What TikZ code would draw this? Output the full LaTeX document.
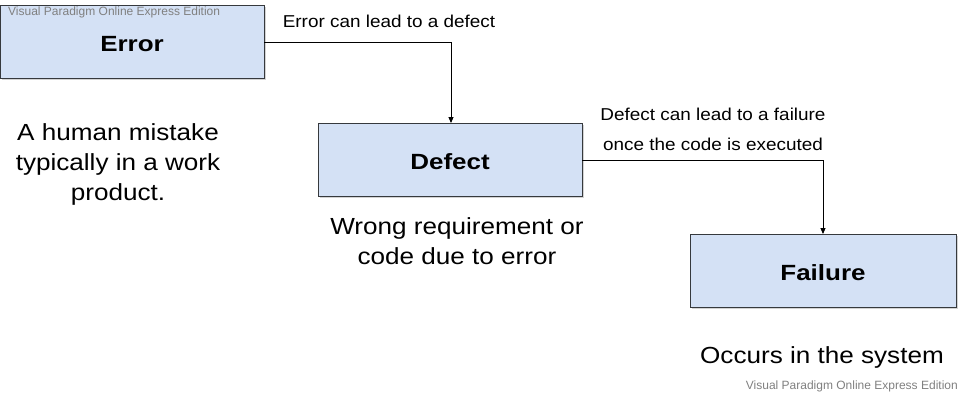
\documentclass[tikz,border=0pt]{standalone}
\usepackage{fontspec}
\usepackage{graphicx}
\setmainfont{Liberation Sans}
\usetikzlibrary{shadows,arrows.meta}
\definecolor{boxfill}{HTML}{D4E1F5}
\definecolor{boxline}{HTML}{36393D}
\definecolor{wm}{HTML}{808080}
\newcommand{\widetext}[2]{\scalebox{#1}[1]{\begin{tabular}{@{}c@{}}#2\end{tabular}}}
\newcommand{\boxtext}[1]{\scalebox{1.18}[1]{#1}}
\begin{document}
\begin{tikzpicture}[x=1pt,y=-1pt,
  box/.style={draw=boxline,fill=boxfill,line width=0.9pt,minimum width=#1,minimum height=73pt,inner sep=0pt,
    text height=18.8pt,text depth=0pt,
    font=\fontsize{22}{26}\selectfont\bfseries,drop shadow={shadow xshift=2pt,shadow yshift=-2pt,opacity=0.35}},
  conn/.style={draw=black,line width=0.9pt,-{Triangle[length=6pt,width=5pt]}},
  elabel/.style={font=\fontsize{17.2}{30}\selectfont,inner sep=0pt},
  note/.style={font=\fontsize{23.3}{30}\selectfont,inner sep=0pt},
  wmark/.style={font=\fontsize{12}{13}\selectfont,text=wm,inner sep=0pt}]
\useasboundingbox (0,0) rectangle (970,403);
\node[box=264pt] (error) at (132,42) {\boxtext{Error}};
\node[box=264pt] (defect) at (450,160) {\boxtext{Defect}};
\node[box=266pt] (failure) at (823,271) {\boxtext{Failure}};
\node[wmark,anchor=west] (wm1) at (8,12) {Visual Paradigm Online Express Edition};
\node[wmark,anchor=east] (wm2) at (958,386) {Visual Paradigm Online Express Edition};
\coordinate (c1) at (451,42);
\coordinate (c2) at (823,160);
\draw[conn] (error.east) -- (c1) -- (defect.north -| c1);
\draw[conn] (defect.east) -- (c2) -- (failure.north);
\node[elabel] (l1) at (389,22) {\widetext{1.1}{Error can lead to a defect}};
\node[elabel] (l2) at (713,129.5) {\widetext{1.1}{Defect can lead to a failure\\once the code is executed}};
\node[note] (n1) at (118,165) {\widetext{1.12}{A human mistake\\typically in a work\\product.}};
\node[note] (n2) at (457,244) {\widetext{1.12}{Wrong requirement or\\code due to error}};
\node[note] (n3) at (822,358) {\widetext{1.12}{Occurs in the system}};
\end{tikzpicture}
\end{document}
